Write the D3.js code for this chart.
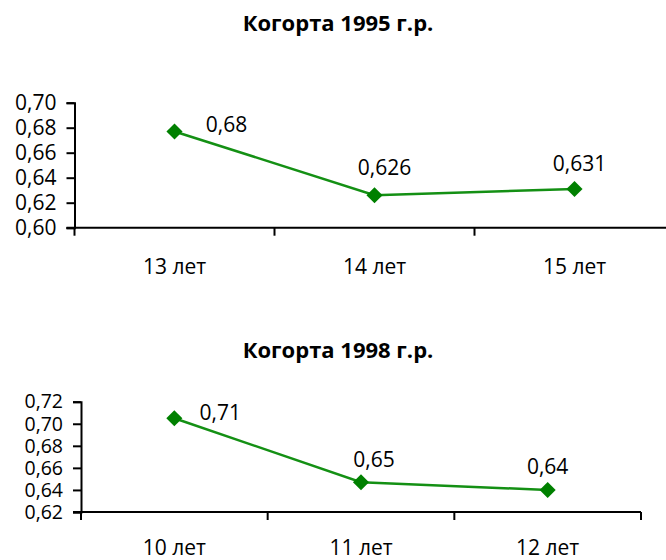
<!DOCTYPE html>
<html>
<head>
<meta charset="utf-8">
<script src="https://cdn.jsdelivr.net/npm/d3@7"></script>
<style>
  body { margin: 0; background: #fff; }
  text { font-family: "Open Sans", sans-serif; fill: #000; }
</style>
</head>
<body>
<svg id="chart" width="666" height="560"></svg>
<script>
// Data
const titles = ["Когорта 1995 г.р.", "Когорта 1998 г.р."];
const ages1995 = ["13 лет", "14 лет", "15 лет"];
const values1995 = [0.677, 0.626, 0.631];
const labels1995 = ["0,68", "0,626", "0,631"];
const yTicks1995 = [0.60, 0.62, 0.64, 0.66, 0.68, 0.70];

const ages1998 = ["10 лет", "11 лет", "12 лет"];
const values1998 = [0.705, 0.647, 0.640];
const labels1998 = ["0,71", "0,65", "0,64"];
const yTicks1998 = [0.62, 0.64, 0.66, 0.68, 0.70, 0.72];

const svg = d3.select("#chart");
const green = "#008000";
const fs = "21px";

// Layout of each panel (pixel placement, not data)
const panels = [
  {
    title: titles[0], cats: ages1995, vals: values1995, labels: labels1995, ticks: yTicks1995,
    titleY: 31, x0: 74.5, x1: 674.5, yTop: 102.7, yBottom: 227.7, catY: 274, tickFs: "21px",
    labelDx: [52, 10, 5], labelDy: [-7, -28, -25]
  },
  {
    title: titles[1], cats: ages1998, vals: values1998, labels: labels1998, ticks: yTicks1998,
    titleY: 358, x0: 81, x1: 641, yTop: 401.7, yBottom: 512, catY: 555, tickFs: "19.5px",
    labelDx: [46, 13, 0], labelDy: [-6, -23, -23]
  }
];

panels.forEach((p) => {
  const g = svg.append("g");

  const x = d3.scaleBand().domain(p.cats).range([p.x0, p.x1]).padding(0);
  const y = d3.scaleLinear()
    .domain([p.ticks[0], p.ticks[p.ticks.length - 1]])
    .range([p.yBottom, p.yTop]);

  // title
  g.append("text")
    .attr("x", 338)
    .attr("y", p.titleY)
    .attr("text-anchor", "middle")
    .style("font-weight", "bold")
    .style("font-size", "22px")
    .text(p.title);

  // y axis
  const yAxis = g.append("g")
    .attr("transform", `translate(${p.x0},0)`)
    .call(
      d3.axisLeft(y)
        .tickValues(p.ticks)
        .tickSize(8)
        .tickPadding(10)
        .tickFormat((d) => d.toFixed(2).replace(".", ","))
    );
  yAxis.select(".domain").attr("stroke", "#000").attr("stroke-width", 2);
  yAxis.selectAll(".tick line").attr("stroke", "#000").attr("stroke-width", 2);
  yAxis.selectAll(".tick text").style("font-size", p.tickFs).attr("fill", "#000");

  // x axis: line + ticks at category boundaries
  g.append("line")
    .attr("x1", p.x0 - 8).attr("x2", p.x1)
    .attr("y1", y(p.ticks[0])).attr("y2", y(p.ticks[0]))
    .attr("stroke", "#000").attr("stroke-width", 2);

  const bounds = p.cats.map((c) => x(c)).concat([x.range()[1]]);
  g.selectAll(".xtick")
    .data(bounds)
    .join("line")
    .attr("x1", (d) => d).attr("x2", (d) => d)
    .attr("y1", y(p.ticks[0])).attr("y2", y(p.ticks[0]) + 8)
    .attr("stroke", "#000").attr("stroke-width", 2);

  g.selectAll(".cat")
    .data(p.cats)
    .join("text")
    .attr("x", (d) => x(d) + x.bandwidth() / 2)
    .attr("y", p.catY)
    .attr("text-anchor", "middle")
    .style("font-size", fs)
    .text((d) => d);

  // line
  const line = d3.line()
    .x((d, i) => x(p.cats[i]) + x.bandwidth() / 2)
    .y((d) => y(d));

  g.append("path")
    .datum(p.vals)
    .attr("d", line)
    .attr("fill", "none")
    .attr("stroke", "#149014")
    .attr("stroke-width", 2.5);

  // diamond markers
  g.selectAll(".marker")
    .data(p.vals)
    .join("path")
    .attr("d", d3.symbol().type(d3.symbolDiamond2).size(165))
    .attr("transform", (d, i) => `translate(${x(p.cats[i]) + x.bandwidth() / 2},${y(d)})`)
    .attr("fill", green);

  // data labels
  g.selectAll(".lbl")
    .data(p.vals)
    .join("text")
    .attr("x", (d, i) => x(p.cats[i]) + x.bandwidth() / 2 + p.labelDx[i])
    .attr("y", (d, i) => y(d) + p.labelDy[i])
    .attr("dy", "0.35em")
    .attr("text-anchor", "middle")
    .style("font-size", fs)
    .text((d, i) => p.labels[i]);
});
</script>
</body>
</html>
